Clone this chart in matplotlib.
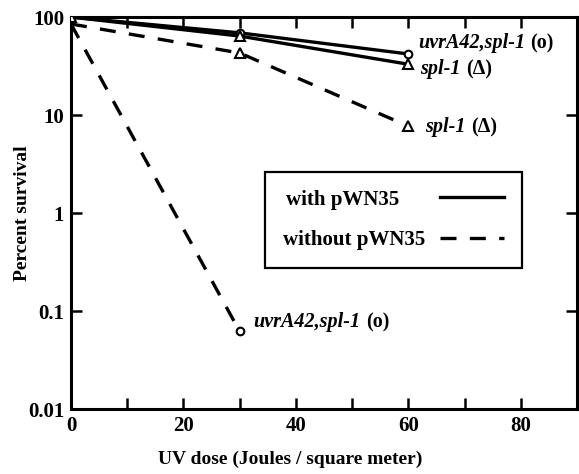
import matplotlib
matplotlib.use("Agg")
import matplotlib.pyplot as plt
from matplotlib.lines import Line2D

plt.rcParams['font.family'] = ['Liberation Serif', 'DejaVu Serif']
plt.rcParams['font.weight'] = 'bold'

# data
dose_with = [0, 30, 60]
with_uvr = [100, 69, 42]
with_spl = [100, 64, 33]
dose_spl_wo = [0, 30, 60]
wo_spl = [85, 43, 7.7]
dose_uvr_wo = [0, 30]
wo_uvr = [85, 0.062]

xticks = [0, 10, 20, 30, 40, 50, 60, 70, 80]
xlabels = ['0', '', '20', '', '40', '', '60', '', '80']
yticks = [0.01, 0.1, 1, 10, 100]
ylabels = ['0.01', '0.1', '1', '10', '100']
legend_labels = ['with pWN35', 'without pWN35']

fig = plt.figure(figsize=(5.79, 4.74), dpi=100)
ax = fig.add_axes([0.1226, 0.137, 0.874, 0.827])
ax.set_yscale('log')
ax.set_xlim(0, 90)
ax.set_ylim(0.01, 100)

lw = 2.4
dash = (0, (4.8, 4))
mk = dict(markerfacecolor='white', markeredgecolor='black', markeredgewidth=1.5)
ax.plot(dose_with, with_uvr, '-', color='black', lw=lw, marker='o', markersize=5.5, **mk, zorder=3)
ax.plot(dose_with, with_spl, '-', color='black', lw=lw, marker='^', markersize=7, **mk, zorder=3)
ax.plot(dose_spl_wo, wo_spl, color='black', lw=lw, ls=dash, marker='^', markersize=7, **mk,
        markevery=[1, 2], zorder=3)
ax.plot(dose_uvr_wo, wo_uvr, color='black', lw=lw, ls=dash, marker='o', markersize=5.5, **mk,
        markevery=[1], zorder=3)

for s in ax.spines.values():
    s.set_linewidth(2.2)

ax.set_xticks(xticks)
ax.set_xticklabels(xlabels)
ax.set_yticks(yticks)
ax.set_yticklabels(ylabels)
ax.minorticks_off()
ax.tick_params(axis='both', direction='in', length=8, width=1.8, labelsize=15,
               top=True, right=True, pad=5)
for lab in ax.get_xticklabels() + ax.get_yticklabels():
    lab.set_fontweight('bold')

ax.set_ylabel('Percent survival', fontsize=14, fontweight='bold')
ax.set_xlabel('UV dose (Joules / square meter)', fontsize=14, fontweight='bold')
ax.yaxis.set_label_coords(-0.08, 0.5)
ax.xaxis.set_label_coords(0.433, -0.105)

def label(x, y, ital, sym):
    t = ax.text(x, y, ital, fontsize=14.5, fontstyle='italic', fontweight='bold',
                va='center', ha='left')
    ax.annotate(sym, xy=(1, 0.5), xycoords=t, xytext=(4, 0), textcoords='offset points',
                fontsize=14.5, fontweight='bold', va='center', ha='left')

label(61.7, 54, 'uvrA42,spl-1', '(o)')
label(62.1, 29.5, 'spl-1', '(Δ)')
label(63.0, 7.5, 'spl-1', '(Δ)')
label(32.4, 0.077, 'uvrA42,spl-1', '(o)')

handles = [Line2D([], [], color='black', lw=lw),
           Line2D([], [], color='black', lw=lw, ls=dash)]
labels = [legend_labels[0] + '\u00a0' * 5, legend_labels[1]]
leg = ax.legend(handles, labels, loc='upper left',
                bbox_to_anchor=(0.384, 0.605), markerfirst=False, fancybox=False,
                frameon=True, edgecolor='black', framealpha=1, handlelength=3.1,
                handletextpad=0.7, borderpad=0.85, labelspacing=1.0,
                borderaxespad=0, prop=dict(size=15, weight='bold'))
leg.get_frame().set_linewidth(1.6)

fig.savefig('out.png', dpi=100)
